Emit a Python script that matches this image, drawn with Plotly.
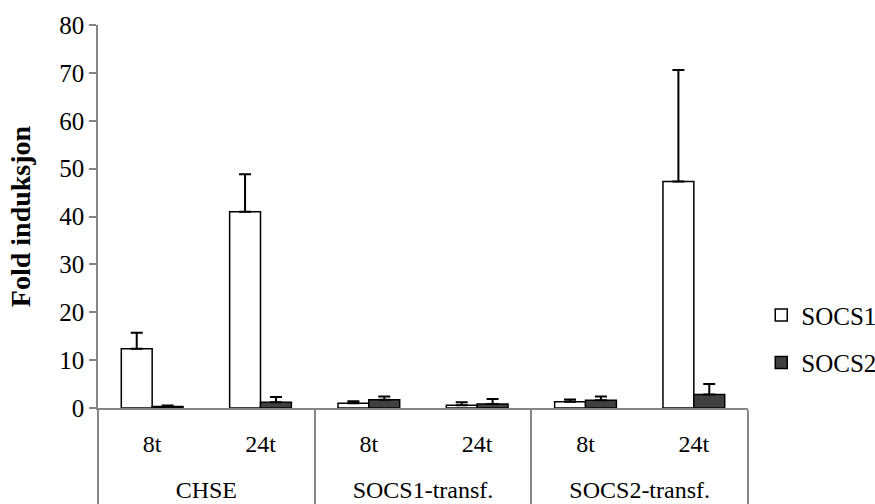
import plotly.graph_objects as go

groups = ["CHSE", "CHSE", "SOCS1-transf.", "SOCS1-transf.", "SOCS2-transf.", "SOCS2-transf."]
times = ["8t", "24t", "8t", "24t", "8t", "24t"]
series_names = ["SOCS1", "SOCS2"]

socs1 = [12.4, 41.0, 1.0, 0.6, 1.3, 47.3]
socs1_err = [3.3, 7.8, 0.4, 0.6, 0.5, 23.3]
socs2 = [0.3, 1.2, 1.7, 0.85, 1.6, 2.8]
socs2_err = [0.2, 1.1, 0.7, 1.05, 0.8, 2.2]

font_family = "Liberation Serif"

# group labels pushed one line lower, as in the reference
group_labels = ["<br>" + g for g in groups]


def legend_label(name):
    return "<span style='font-family:Liberation Serif'>" + name + "</span>"


fig = go.Figure()
fig.add_trace(go.Bar(
    name=legend_label(series_names[0]), x=[group_labels, times], y=socs1, legendgroup="a",
    marker=dict(color="white", line=dict(color="black", width=1.5)),
    error_y=dict(type="data", array=socs1_err, arrayminus=[0]*6, symmetric=False,
                 color="black", thickness=2, width=6),
))
fig.add_trace(go.Bar(
    name=legend_label(series_names[1]), x=[group_labels, times], y=socs2, legendgroup="b",
    marker=dict(color="#404040", line=dict(color="black", width=1.5)),
    error_y=dict(type="data", array=socs2_err, arrayminus=[0]*6, symmetric=False,
                 color="black", thickness=2, width=6),
))

fig.update_layout(
    width=875, height=504,
    margin=dict(l=98, r=127, t=25, b=96, autoexpand=False),
    paper_bgcolor="white", plot_bgcolor="white",
    barmode="group", bargap=0.43, bargroupgap=0,
    font=dict(family=font_family, size=25, color="black"),
    legend=dict(xref="container", yref="container", x=0.870, y=0.328,
                yanchor="middle", xanchor="left",
                font=dict(family=font_family, size=25, color="black"),
                tracegroupgap=12, itemwidth=30,
                bgcolor="rgba(0,0,0,0)"),
    showlegend=True,
)
fig.update_xaxes(
    type="multicategory", showline=True, linecolor="#868686", linewidth=1.5,
    ticks="", showdividers=True, dividercolor="#868686", dividerwidth=1.5,
    tickfont=dict(family=font_family, size=24), ticklabelstandoff=13,
)
fig.update_yaxes(
    range=[0, 80], dtick=10, showgrid=False, zeroline=False,
    showline=True, linecolor="#868686", linewidth=1.5,
    ticks="outside", ticklen=7, tickcolor="#868686", tickwidth=1.5,
    tickfont=dict(family=font_family, size=25),
    title=dict(text="<b>Fold induksjon</b>",
               font=dict(family=font_family, size=28), standoff=20),
)

fig.write_html("out.html")
